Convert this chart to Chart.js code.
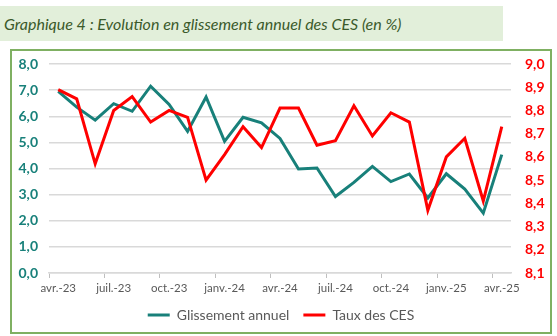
<!DOCTYPE html>
<html>
<head>
<meta charset="utf-8">
<script src="https://cdn.jsdelivr.net/npm/chart.js@4"></script>
<style>
  body { margin: 0; background: #fff; width: 557px; height: 336px; position: relative; overflow: hidden; }
  #titre {
    position: absolute; left: 0; top: 6px; width: 503px; height: 35px;
    background: #e2efda; color: #3b5a2b;
    font: italic 16px Lato, sans-serif; line-height: 35px; padding-left: 4px; box-sizing: border-box;
  }
  #cadre {
    position: absolute; left: 10px; top: 49px; width: 542px; height: 285px;
    border: 2px solid #7fb062; box-sizing: border-box;
  }
  #graph { position: absolute; left: 0; top: 0; }
</style>
</head>
<body>
<div id="titre">Graphique 4 : Evolution en glissement annuel des CES (en %)</div>
<div id="cadre"><canvas id="graph" width="538" height="281"></canvas></div>
<script>
// Mois (avr.-23 a avr.-25)
const mois = [
  'avr.-23', 'mai-23', 'juin-23', 'juil.-23', 'août-23', 'sept.-23', 'oct.-23', 'nov.-23', 'déc.-23',
  'janv.-24', 'févr.-24', 'mars-24', 'avr.-24', 'mai-24', 'juin-24', 'juil.-24', 'août-24', 'sept.-24',
  'oct.-24', 'nov.-24', 'déc.-24', 'janv.-25', 'févr.-25', 'mars-25', 'avr.-25'
];

// Glissement annuel (axe gauche, %)
const glissement = [
  6.95, 6.35, 5.85, 6.48, 6.19, 7.15, 6.45, 5.42, 6.74, 5.04, 5.96, 5.75, 5.15,
  3.98, 4.02, 2.93, 3.47, 4.08, 3.50, 3.79, 2.87, 3.80, 3.21, 2.29, 4.53
];

// Taux des CES (axe droit, %)
const tauxCES = [
  8.89, 8.85, 8.57, 8.80, 8.86, 8.75, 8.80, 8.77, 8.50, 8.61, 8.73, 8.64, 8.81,
  8.81, 8.65, 8.67, 8.82, 8.69, 8.79, 8.75, 8.37, 8.60, 8.68, 8.41, 8.73
];

const teal = '#18807a';
const rouge = '#ff0000';
const virgule = (v) => v.toFixed(1).replace('.', ',');

new Chart(document.getElementById('graph'), {
  type: 'line',
  data: {
    labels: mois,
    datasets: [
      { label: 'Glissement annuel', data: glissement, yAxisID: 'y', borderColor: teal, backgroundColor: teal,
        borderWidth: 3, pointRadius: 0, tension: 0, order: 1 },
      { label: 'Taux des CES', data: tauxCES, yAxisID: 'y1', borderColor: rouge, backgroundColor: rouge,
        borderWidth: 3, pointRadius: 0, tension: 0, order: 0 }
    ]
  },
  options: {
    responsive: false,
    devicePixelRatio: 1,
    animation: false,
    layout: { padding: { top: 13, left: 0, right: 0, bottom: 0 } },
    plugins: {
      tooltip: { enabled: false },
      legend: {
        position: 'bottom',
        labels: {
          usePointStyle: true,
          pointStyle: 'line',
          pointStyleWidth: 22,
          color: '#595959',
          font: { family: 'Lato', size: 14 },
          padding: 14,
          sort: (a, b) => a.datasetIndex - b.datasetIndex
        }
      }
    },
    scales: {
      x: {
        type: 'category',
        offset: true,
        grid: {
          offset: true,
          drawOnChartArea: false,
          drawTicks: true,
          tickLength: 5,
          color: (c) => (c.index % 3 === 0 ? '#bfbfbf' : 'rgba(0,0,0,0)')
        },
        border: { display: true, color: '#d9d9d9', width: 1.5 },
        ticks: {
          autoSkip: false,
          maxRotation: 0,
          color: '#595959',
          font: { family: 'Lato', size: 11.5 },
          padding: 3,
          callback: (v, i) => (i % 3 === 0 ? mois[i] : '')
        },
        afterFit: (s) => { s.height = 21; }
      },
      y: {
        position: 'left',
        min: 0, max: 8,
        ticks: { stepSize: 1, color: teal, font: { family: 'Lato', size: 14, weight: 'bold' }, padding: 11,
          callback: (v) => virgule(v) },
        grid: { color: '#d9d9d9', lineWidth: 1.5, drawTicks: false },
        border: { display: false },
        afterFit: (s) => { s.width = 37; s.paddingTop = 0; s.paddingBottom = 0; }
      },
      y1: {
        position: 'right',
        min: 8.1, max: 9.0,
        ticks: { stepSize: 0.1, color: rouge, font: { family: 'Lato', size: 14, weight: 'bold' }, padding: 14,
          callback: (v) => virgule(v) },
        grid: { drawOnChartArea: false, drawTicks: false },
        border: { display: false },
        afterFit: (s) => { s.width = 39; s.paddingTop = 0; s.paddingBottom = 0; }
      }
    }
  }
});
</script>
</body>
</html>
